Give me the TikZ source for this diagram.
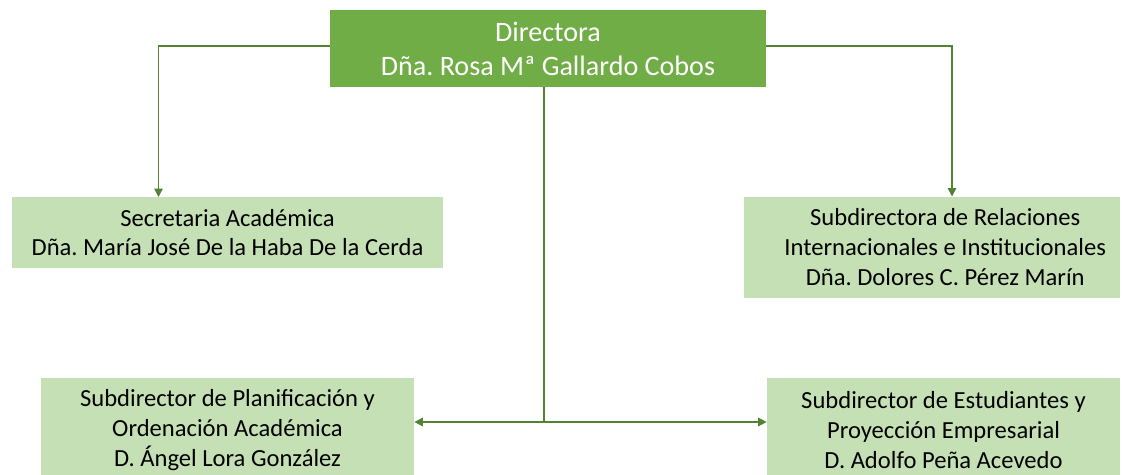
\documentclass[tikz,border=0pt]{standalone}
\usepackage{fontspec}
\setmainfont{Carlito}
\frenchspacing
\usetikzlibrary{arrows.meta}
\definecolor{darkgreen}{HTML}{70AD47}
\definecolor{lightgreen}{HTML}{C5E0B4}
\definecolor{linegreen}{HTML}{548235}
\begin{document}
\begin{tikzpicture}[x=0.02cm, y=-0.02cm,
    topbox/.style={fill=darkgreen, text=white, align=center, inner sep=0pt,
      font=\fontsize{16}{19.4}\selectfont},
    subbox/.style={fill=lightgreen, text=black, align=center, inner sep=0pt,
      font=\fontsize{14}{17}\selectfont},
    link/.style={draw=linegreen, line width=0.85pt},
    tip/.style={-{Triangle[length=0.17cm, width=0.17cm]}}]
      \path[use as bounding box, clip] (0, 0) rectangle (1123, 474);
      \node[topbox, minimum width=436*0.02cm, minimum height=77*0.02cm] (dir) at (548, 48.5)
        {Directora\\Dña. Rosa Mª Gallardo Cobos};
      \node[subbox, minimum width=431*0.02cm, minimum height=71*0.02cm] (sec) at (227.5, 232.5)
        {Secretaria Académica\\Dña. María José De la Haba De la Cerda};
      \node[subbox, minimum width=376*0.02cm, minimum height=101*0.02cm] (rel) at (932, 247)
        {\hspace*{15pt}Subdirectora de Relaciones\\\hspace*{15pt}Internacionales e Institucionales\\\hspace*{15pt}Dña. Dolores C. Pérez Marín};
      \node[subbox, minimum width=373*0.02cm, minimum height=104*0.02cm] (plan) at (227.5, 430)
        {Subdirector de Planificación y\\Ordenación Académica\\D. Ángel Lora González};
      \node[subbox, minimum width=353*0.02cm, minimum height=104*0.02cm] (est) at (943.5, 430)
        {Subdirector de Estudiantes y\\Proyección Empresarial\\D. Adolfo Peña Acevedo};
      \coordinate (secin) at (158.5, 197);
      \coordinate (relin) at (952, 196.5);
      \coordinate (hub) at (544, 422);
      \draw[link, tip] (dir.west |- 0, 46) -| (secin);
      \draw[link, tip] (dir.east |- 0, 46) -| (relin);
      \draw[link] (dir.south -| hub) -- (hub);
      \draw[link, tip] (hub) -- (plan.east |- hub);
      \draw[link, tip] (hub) -- (est.west |- hub);
    \end{tikzpicture}
\end{document}
